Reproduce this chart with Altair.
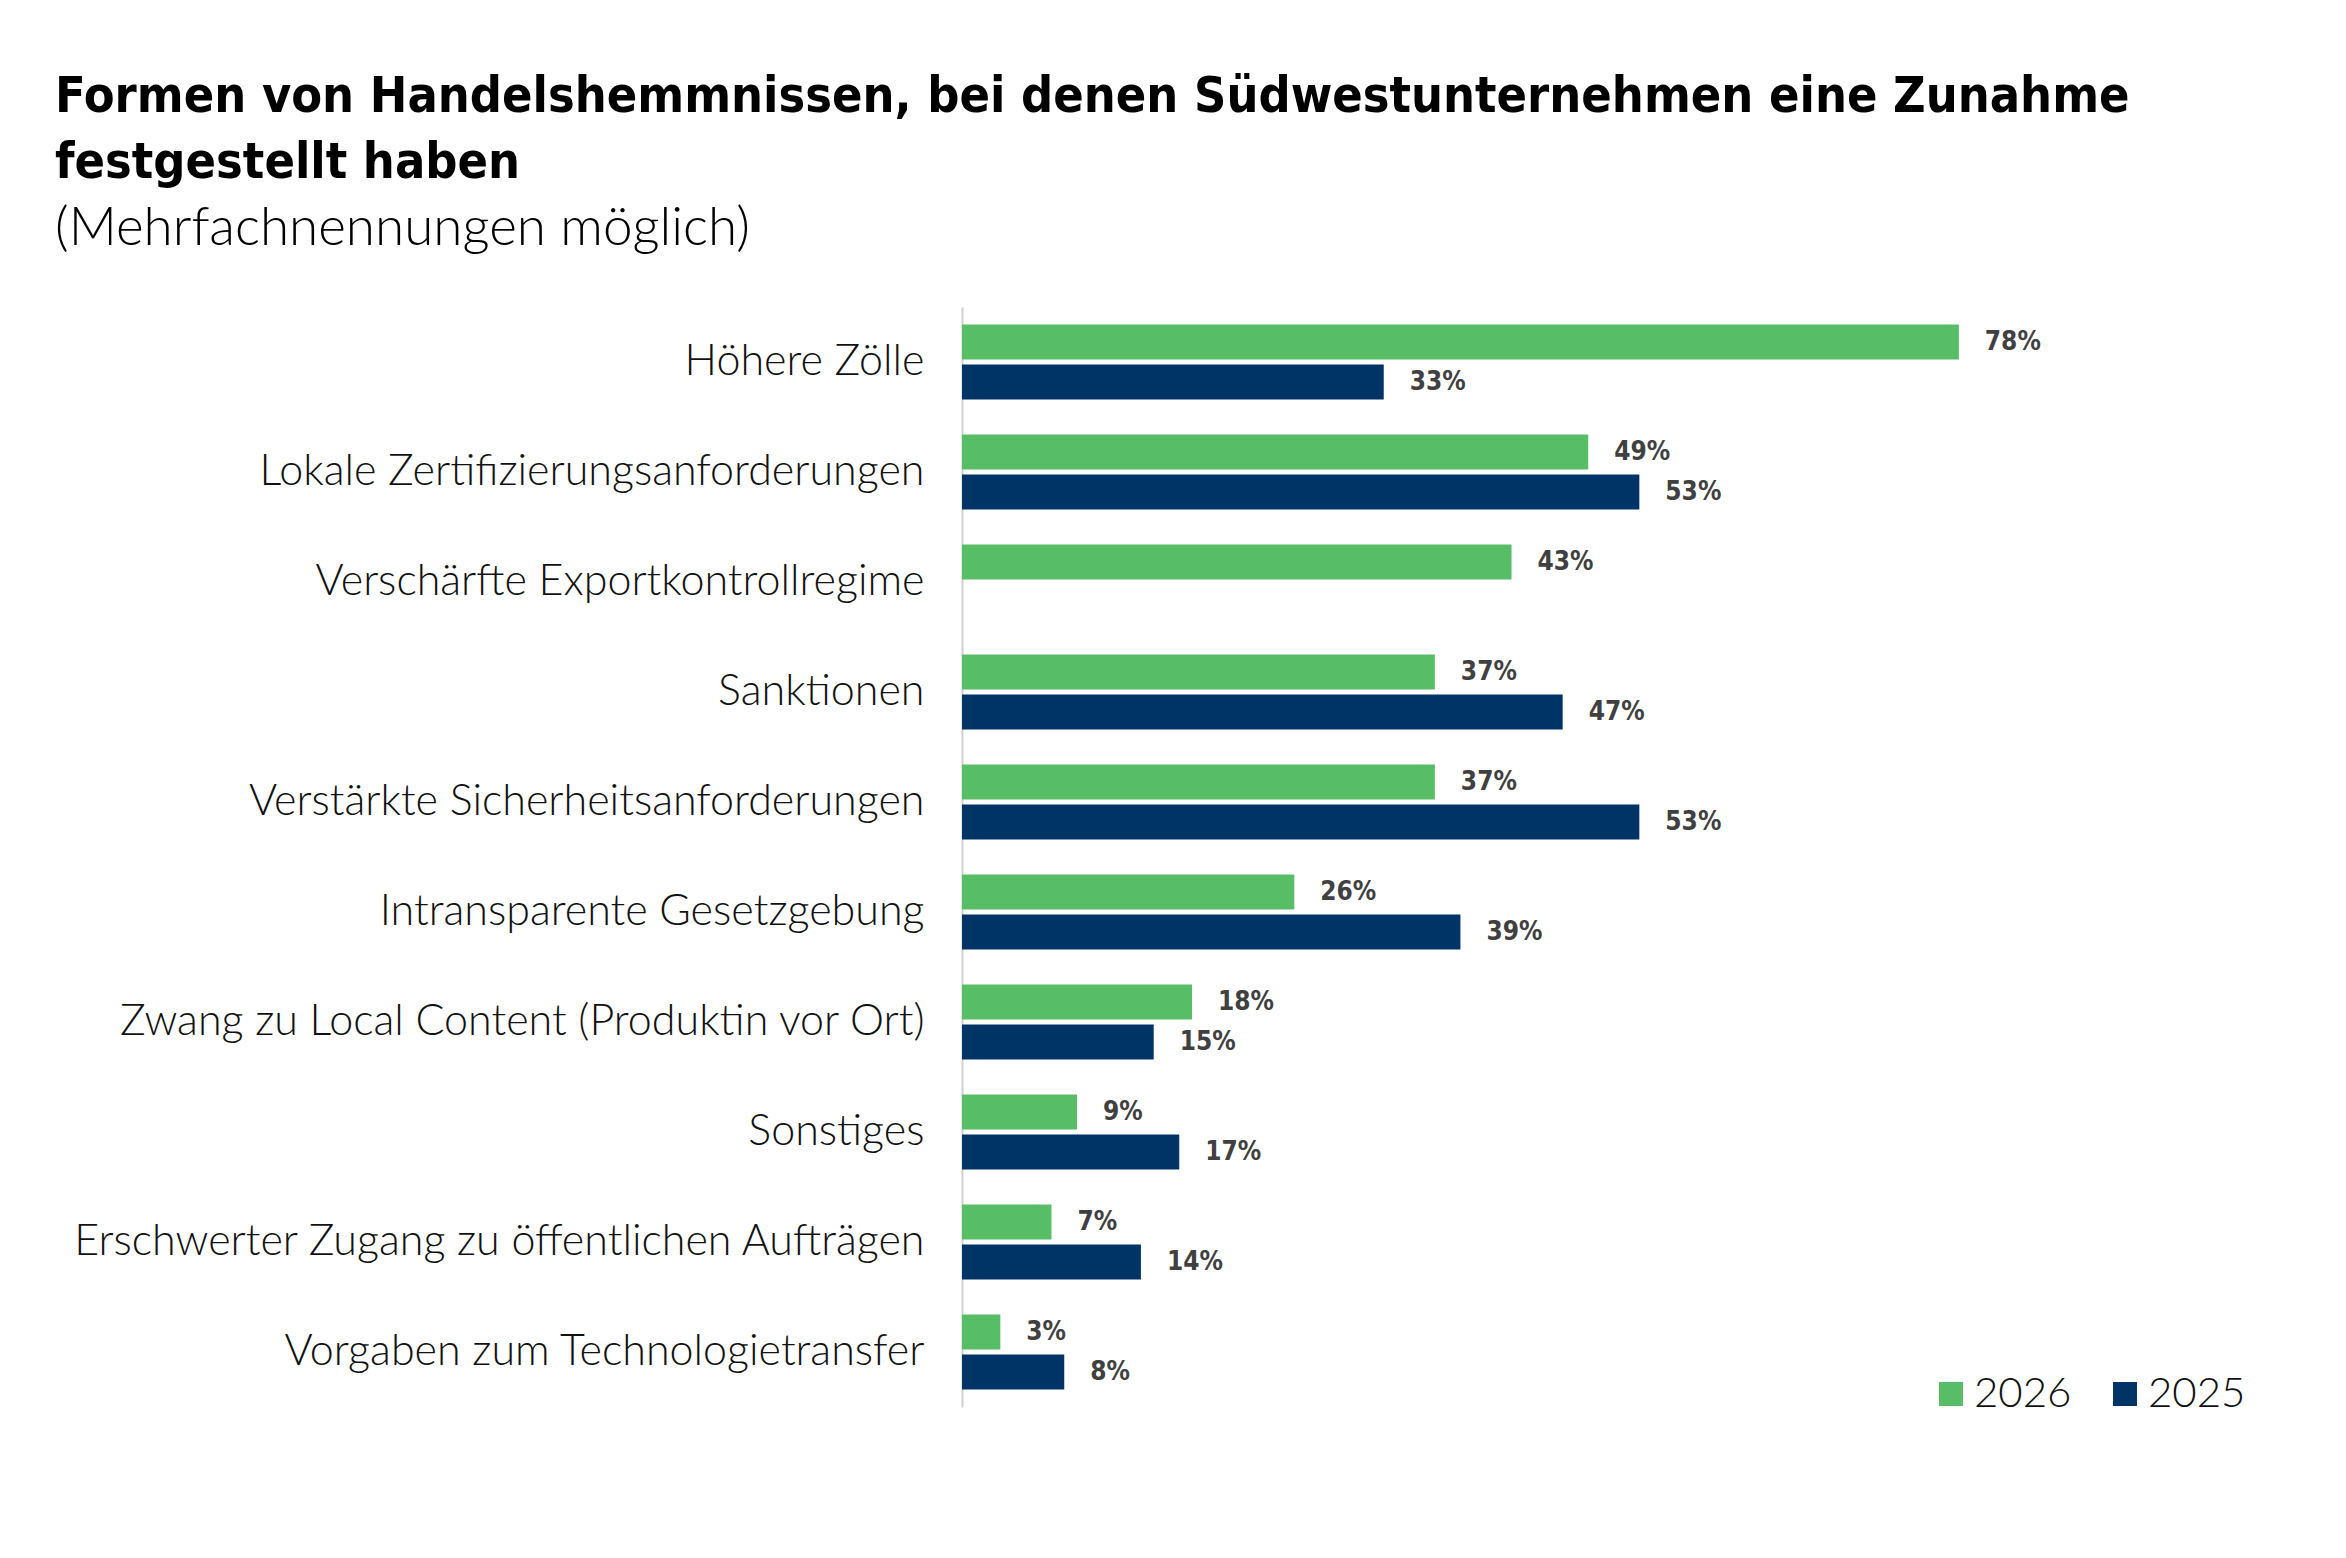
import altair as alt
import pandas as pd

categories = [
    "Höhere Zölle",
    "Lokale Zertifizierungsanforderungen",
    "Verschärfte Exportkontrollregime",
    "Sanktionen",
    "Verstärkte Sicherheitsanforderungen",
    "Intransparente Gesetzgebung",
    "Zwang zu Local Content (Produktin vor Ort)\u00a0",
    "Sonstiges",
    "Erschwerter Zugang zu öffentlichen Aufträgen",
    "Vorgaben zum Technologietransfer",
]
values_2026 = [78, 49, 43, 37, 37, 26, 18, 9, 7, 3]
values_2025 = [33, 53, None, 47, 53, 39, 15, 17, 14, 8]
years = ["2026", "2025"]
colors = ["#58BD67", "#003466"]

rows = []
for c, v in zip(categories, values_2026):
    if v is not None:
        rows.append({"cat": c, "year": "2026", "value": v, "label": f"{v}%"})
for c, v in zip(categories, values_2025):
    if v is not None:
        rows.append({"cat": c, "year": "2025", "value": v, "label": f"{v}%"})
df = pd.DataFrame(rows)

COND = "DejaVu Sans Condensed, sans-serif"

y = alt.Y("cat:N", sort=categories,
          scale=alt.Scale(paddingInner=0.32, paddingOuter=0.16),
          axis=alt.Axis(title=None, ticks=False, domain=True, domainColor="#D0D0D0",
                        domainWidth=2, labelFont="Lato", labelFontSize=43,
                        labelFontWeight=300,
                        labelColor="#111111", labelPadding=38, labelLimit=0))
yoff = alt.YOffset("year:N", scale=alt.Scale(domain=years, paddingInner=0.12, paddingOuter=0))
x = alt.X("value:Q", scale=alt.Scale(domain=[0, 100]), axis=None)

bars = alt.Chart(df).mark_bar().encode(
    x=x, y=y, yOffset=yoff,
    color=alt.Color("year:N", scale=alt.Scale(domain=years, range=colors),
                    legend=alt.Legend(title=None, orient="none", legendX=968, legendY=1066,
                                      direction="horizontal", symbolType="square",
                                      symbolSize=576, symbolStrokeWidth=0,
                                      labelFont="Lato", labelFontSize=42,
                                      labelFontWeight=300, labelColor="#111111",
                                      labelOffset=2, columnPadding=32, padding=0)),
)

labels = alt.Chart(df).mark_text(align="left", baseline="middle", dx=26,
                                 font=COND, fontSize=26, fontWeight="bold",
                                 color="#404040").encode(
    x=x, y=alt.Y("cat:N", sort=categories), yOffset=yoff, text="label:N")

chart = alt.layer(bars, labels).properties(
    width=1278, height=1100,
    background="white",
    autosize=alt.AutoSizeParams(type="none"),
    padding={"left": 954, "top": 299, "right": 98, "bottom": 143},
    title=alt.TitleParams(
        text=["Formen von Handelshemmnissen, bei denen Südwestunternehmen eine Zunahme",
              "festgestellt haben"],
        subtitle=["(Mehrfachnennungen möglich)"],
        anchor="start", frame="group", dx=-907, offset=51,
        font=COND, fontSize=50, fontWeight="bold", color="#000000", lineHeight=66,
        subtitleFont="Lato", subtitleFontSize=53, subtitleColor="#000000",
        subtitleFontWeight=300, subtitlePadding=15,
    ),
).configure_view(strokeWidth=0)

chart.save("out.html", embed_options={"renderer": "svg", "actions": False})
